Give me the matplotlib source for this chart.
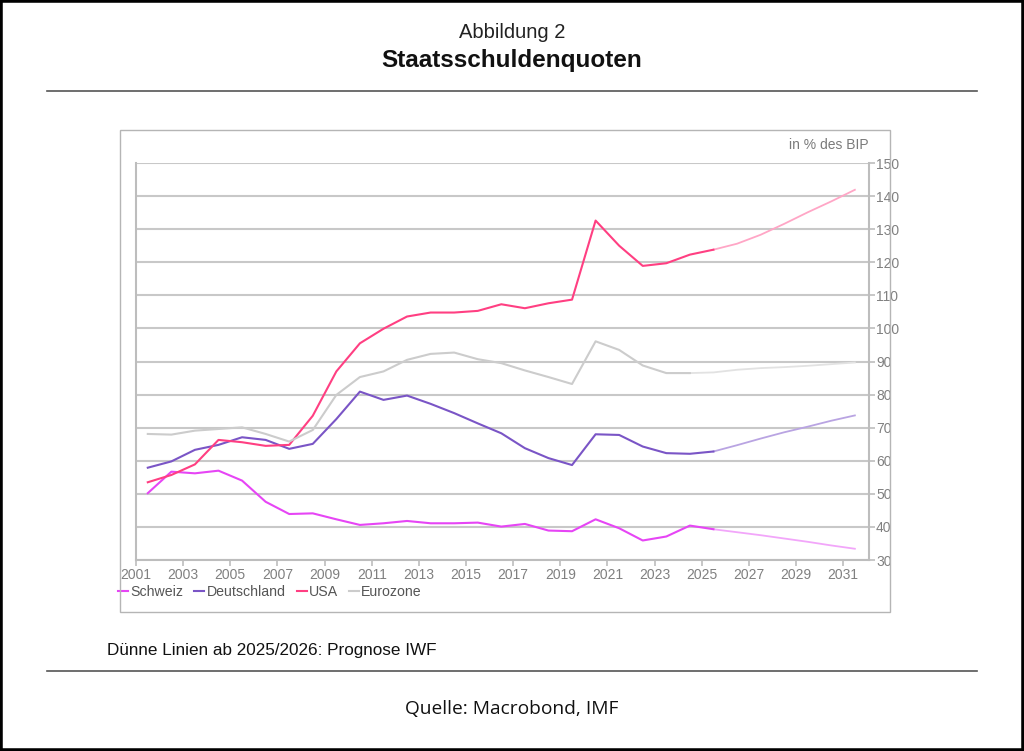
import numpy as np
import matplotlib
matplotlib.use("Agg")
import matplotlib.pyplot as plt
from matplotlib.patches import Rectangle
from matplotlib.lines import Line2D

plt.rcParams["font.family"] = ["Liberation Sans", "DejaVu Sans"]

# Jahreswerte (Mitte des Jahres), ab 2025/2026 Prognose IWF
jahre = np.arange(2001, 2032)
schweiz = [50.2, 56.7, 56.2, 57.0, 54.0, 47.6, 43.9, 44.1, 42.3, 40.6,
           41.1, 41.8, 41.1, 41.1, 41.3, 40.1, 40.9, 38.9, 38.7, 42.3,
           39.6, 35.9, 37.1, 40.4, 39.3, 38.4, 37.5, 36.5, 35.5, 34.4, 33.4]
deutschland = [57.9, 59.8, 63.3, 64.8, 67.1, 66.3, 63.6, 65.1, 72.6, 80.9,
               78.4, 79.7, 77.2, 74.4, 71.3, 68.3, 63.8, 60.8, 58.7, 68.0,
               67.8, 64.3, 62.3, 62.1, 62.8, 64.7, 66.7, 68.6, 70.3, 72.1, 73.7]
usa = [53.5, 55.7, 58.9, 66.3, 65.6, 64.5, 64.8, 73.6, 87.0, 95.5,
       99.9, 103.6, 104.8, 104.8, 105.3, 107.3, 106.1, 107.6, 108.7, 132.6,
       125.0, 118.9, 119.7, 122.3, 123.8, 125.6, 128.3, 131.6, 135.1, 138.4, 141.9]
eurozone = [68.1, 67.9, 69.1, 69.6, 70.1, 68.1, 65.8, 69.3, 79.9, 85.3,
            87.0, 90.5, 92.3, 92.7, 90.7, 89.5, 87.3, 85.3, 83.2, 96.1,
            93.5, 88.8, 86.5, 86.5, 86.7, 87.5, 88.0, 88.3, 88.7, 89.2, 89.7]
namen = ["Schweiz", "Deutschland", "USA", "Eurozone"]
prognose_ab = [2025, 2025, 2025, 2024]  # letzter Ist-Wert

farben = ["#E645F5", "#7A55C6", "#FF3F82", "#CCCCCC"]
farben_hell = ["#F2A6FA", "#B9A4E2", "#FFA6C6", "#E2E2E2"]

fig = plt.figure(figsize=(10.24, 7.51), dpi=100)
W, H = 1024, 751

def fx(px):
    return px / W

def fy(py):
    return 1 - py / H

# Rahmen, Titel, Trennlinien
fig.patches.append(Rectangle((0, 0), 1, 1, transform=fig.transFigure,
                             fill=False, edgecolor="black", lw=4))
fig.text(0.5, fy(33), "Abbildung 2", ha="center", va="center", fontsize=14.5, color="#222222")
fig.text(0.5, fy(61), "Staatsschuldenquoten", ha="center", va="center",
         fontsize=17.5, fontweight="bold", color="#111111")
fig.add_artist(Line2D([fx(47), fx(977)], [fy(91), fy(91)], color="#555555", lw=1.2))
fig.add_artist(Line2D([fx(47), fx(977)], [fy(671), fy(671)], color="#555555", lw=1.2))
fig.text(fx(107), fy(650), "Dünne Linien ab 2025/2026: Prognose IWF", ha="left", va="center",
         fontsize=12.3, color="#111111")
fig.text(0.5, fy(709), "Quelle: Macrobond, IMF", ha="center", va="center",
         fontsize=13.8, color="#111111", family=["Open Sans", "DejaVu Sans"])

# Kasten um die Grafik
fig.patches.append(Rectangle((fx(120), fy(612)), fx(890) - fx(120), fy(130) - fy(612),
                             transform=fig.transFigure, fill=False, edgecolor="#B5B5B5", lw=1))

ax = fig.add_axes([fx(136), fy(560), fx(869) - fx(136), fy(163) - fy(560)])
x = jahre + 0.5
serien = [schweiz, deutschland, usa, eurozone]
for werte, name, f, fh, ende in zip(serien, namen, farben, farben_hell, prognose_ab):
    werte = np.array(werte)
    ist = jahre <= ende
    prog = jahre >= ende
    ax.plot(x[prog], werte[prog], color=fh, lw=1.3, zorder=2)
    ax.plot(x[ist], werte[ist], color=f, lw=1.5, label=name, zorder=3)

ax.set_xlim(2001, 2032.1)
ax.set_ylim(30, 150)
ax.set_xticks(np.arange(2001, 2032, 2))
ax.set_yticks(np.arange(30, 151, 10))
ax.yaxis.tick_right()
ax.grid(axis="y", color="#C8C8C8", lw=1.5)
ax.set_axisbelow(True)
ax.spines["top"].set_visible(False)
for s in ["left", "right", "bottom"]:
    ax.spines[s].set_color("#BDBDBD")
    ax.spines[s].set_linewidth(1.5)
ax.tick_params(axis="both", colors="#BDBDBD", labelcolor="#808080", labelsize=10,
               length=4, width=1.2)
ax.tick_params(axis="y", pad=1)
ax.tick_params(axis="x", pad=2)
ax.text(1.0, 1.045, "in % des BIP", transform=ax.transAxes, ha="right", va="center",
        fontsize=10, color="#7A7A7A")

ax.legend(loc="center left", bbox_to_anchor=(fx(118), fy(592)), bbox_transform=fig.transFigure,
          ncol=4, frameon=False, handlelength=0.7, handletextpad=0.15, columnspacing=0.8,
          fontsize=10.2, labelcolor="#555555", borderaxespad=0, borderpad=0)

fig.savefig("out.png", dpi=100)
